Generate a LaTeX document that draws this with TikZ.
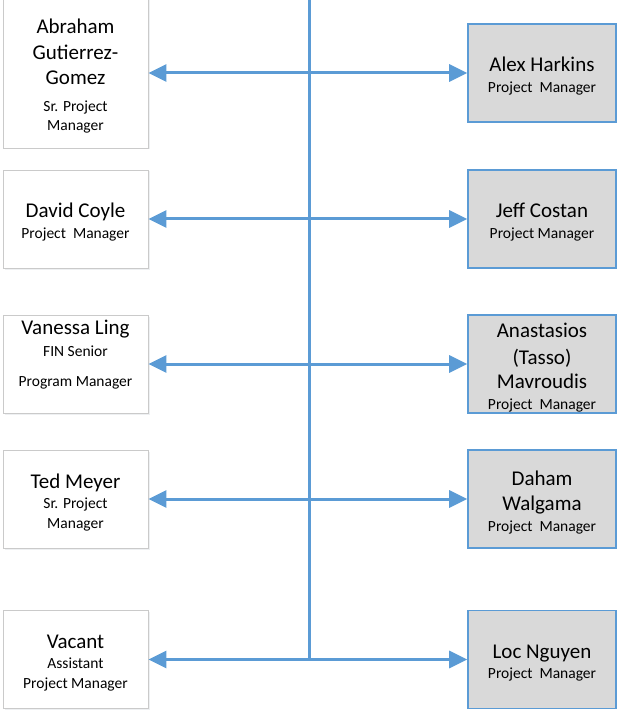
\documentclass[tikz,border=0pt]{standalone}
\usepackage{fontspec}
\setmainfont{Carlito}
\usetikzlibrary{arrows.meta,shadows}
\definecolor{linkblue}{HTML}{5B9BD5}
\definecolor{boxgray}{HTML}{D9D9D9}
\definecolor{rimgray}{HTML}{CACACA}
\def\nm{\fontsize{21}{20}\selectfont}
\def\ttl{\fontsize{15.5}{20}\selectfont}
\def\dn{\\[-24pt]}
\tikzset{
  leftbox/.style={draw=rimgray, line width=0.8pt, fill=white, align=center,
    minimum width=145pt, minimum height=98pt, inner sep=0pt, font=\ttl,
    drop shadow={shadow xshift=1.5pt, shadow yshift=-1.5pt, fill=linkblue!40!black!30, opacity=0.25}},
  rightbox/.style={draw=linkblue, line width=1.6pt, fill=boxgray, align=center,
    minimum width=148pt, minimum height=98pt, inner sep=0pt, font=\ttl},
  link/.style={draw=linkblue, line width=3pt, {Triangle[length=18pt,width=17pt]}-{Triangle[length=18pt,width=17pt]}},
  trunk/.style={draw=linkblue, line width=3pt}
}
\begin{document}
\begin{tikzpicture}[x=1pt, y=-1pt]
		%%%%% START %%%%%
		\useasboundingbox (0, 0) rectangle (618, 711);
		
		\coordinate (top) at (309, -2);
		\coordinate (foot) at (309, 659);
		\draw[trunk] (top) -- (foot);
		
		\node[leftbox, minimum height=150pt] (a1) at (75.5, 73) {\nm Abraham\\[6pt]\nm Gutierrez-\\[5pt]\nm Gomez\\[7pt]Sr. Project\\[-1pt]Manager\dn};
		\node[leftbox] (a2) at (75.5, 219) {\nm David Coyle\\[1pt]Project~~Manager\dn};
		\node[leftbox, text depth=22pt] (a3) at (75.5, 364) {\nm Vanessa Ling\\[2pt]FIN Senior\\[10pt]Program Manager};
		\node[leftbox] (a4) at (75.5, 499) {\nm Ted Meyer\\Sr. Project\\Manager\dn};
		\node[leftbox] (a5) at (75.5, 659.5) {\nm Vacant\\Assistant\\Project Manager\dn};
		
		\node[rightbox] (b1) at (542, 73) {\nm Alex Harkins\\[1pt]Project~~Manager\dn};
		\node[rightbox] (b2) at (542, 219) {\nm Jeff Costan\\[1pt]Project Manager\dn};
		\node[rightbox] (b3) at (542, 364) {\nm Anastasios\\[7pt]\nm (Tasso)\\[4pt]\nm Mavroudis\\[1pt]Project~~Manager\dn};
		\node[rightbox] (b4) at (542, 499) {\nm Daham\\[5pt]\nm Walgama\\[1pt]Project~~Manager\dn};
		\node[rightbox] (b5) at (542, 659.5) {\nm Loc Nguyen\\Project~~Manager\dn};
		
		\draw[link] (a1.east) -- (b1.west);
		\draw[link] (a2.east) -- (b2.west);
		\draw[link] (a3.east) -- (b3.west);
		\draw[link] (a4.east) -- (b4.west);
		\draw[link] (a5.east) -- (b5.west);
		%%%%% END %%%%%
\end{tikzpicture}
\end{document}
